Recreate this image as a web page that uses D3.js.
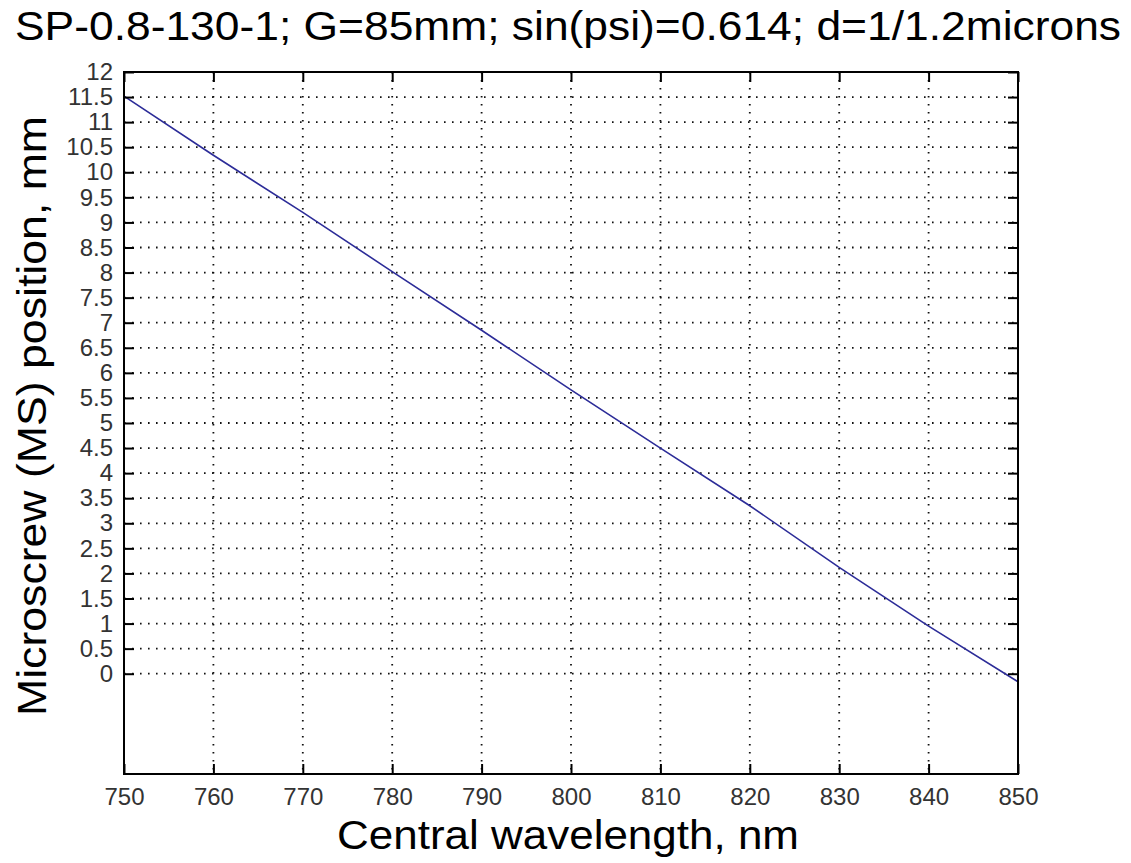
<!DOCTYPE html>
<html>
<head>
<meta charset="utf-8">
<script src="https://cdn.jsdelivr.net/npm/d3@7"></script>
<style>
  html, body { margin: 0; padding: 0; background: #fff; }
  svg { display: block; }
  text { font-family: "Liberation Sans", Arial, sans-serif; }
</style>
</head>
<body>
<svg id="chart" width="1131" height="863"></svg>
<script>
// ---- data ----
const wavelengths = [750, 760, 770, 780, 790, 800, 810, 820, 830, 840, 850];
const positions   = [11.52, 10.34, 9.20, 8.02, 6.85, 5.66, 4.50, 3.35, 2.12, 0.95, -0.16];
const xTicks = [750, 760, 770, 780, 790, 800, 810, 820, 830, 840, 850];
const yTicks = [0, 0.5, 1, 1.5, 2, 2.5, 3, 3.5, 4, 4.5, 5, 5.5, 6, 6.5, 7, 7.5, 8, 8.5, 9, 9.5, 10, 10.5, 11, 11.5, 12];
const titleText = "SP-0.8-130-1; G=85mm; sin(psi)=0.614; d=1/1.2microns";
const xLabelText = "Central wavelength, nm";
const yLabelText = "Microscrew (MS) position, mm";

// ---- layout ----
const L = 124, R = 1018, T = 72, B = 774;
const svg = d3.select("#chart");
svg.append("rect").attr("width", 1131).attr("height", 863).attr("fill", "#fff");

const x = d3.scaleLinear().domain([750, 850]).range([L, R]);
const y = d3.scaleLinear().domain([-2, 12]).range([B, T]);

// grid
const grid = svg.append("g").attr("stroke", "#111").attr("stroke-width", 1.8)
  .attr("stroke-dasharray", "1.6,6.4").attr("fill", "none");
grid.selectAll("line.gx").data(xTicks.slice(1, -1)).join("line")
  .attr("x1", d => x(d)).attr("x2", d => x(d)).attr("y1", T).attr("y2", B);
grid.selectAll("line.gy").data(yTicks.slice(0, -1)).join("line")
  .attr("y1", d => y(d)).attr("y2", d => y(d)).attr("x1", L).attr("x2", R);

// data line
const line = d3.line().x((d, i) => x(wavelengths[i])).y(d => y(d));
svg.append("path").datum(positions).attr("d", line)
  .attr("fill", "none").attr("stroke", "#2c2c98").attr("stroke-width", 1.6);

// axes (inside ticks on all sides)
const tickLen = 10;
const xb = svg.append("g").attr("transform", `translate(0,${B})`)
  .call(d3.axisBottom(x).tickValues(xTicks).tickSizeInner(-tickLen).tickSizeOuter(0).tickPadding(14).tickFormat(d3.format("d")));
const xt = svg.append("g").attr("transform", `translate(0,${T})`)
  .call(d3.axisTop(x).tickValues(xTicks).tickSizeInner(-tickLen).tickSizeOuter(0).tickFormat(""));
const yl = svg.append("g").attr("transform", `translate(${L},0)`)
  .call(d3.axisLeft(y).tickValues(yTicks).tickSizeInner(-tickLen).tickSizeOuter(0).tickPadding(11).tickFormat(d => String(d)));
const yr = svg.append("g").attr("transform", `translate(${R},0)`)
  .call(d3.axisRight(y).tickValues(yTicks).tickSizeInner(-tickLen).tickSizeOuter(0).tickFormat(""));

[xb, xt, yl, yr].forEach(g => {
  g.select(".domain").remove();
  g.selectAll(".tick line").attr("stroke", "#000").attr("stroke-width", 2);
  g.selectAll(".tick text").attr("fill", "#333").style("font-size", "24px")
    .style("font-family", "'Liberation Sans', Arial, sans-serif");
});
xb.selectAll(".tick text").attr("dy", "0.71em");

// box
svg.append("rect").attr("x", L).attr("y", T).attr("width", R - L).attr("height", B - T)
  .attr("fill", "none").attr("stroke", "#000").attr("stroke-width", 2);

// title
svg.append("text").attr("x", 15).attr("y", 40).attr("text-anchor", "start")
  .attr("textLength", 1106).attr("lengthAdjust", "spacingAndGlyphs")
  .style("font-size", "41px").attr("fill", "#000").text(titleText);

// x label
svg.append("text").attr("x", 568).attr("y", 849).attr("text-anchor", "middle")
  .attr("textLength", 462).attr("lengthAdjust", "spacingAndGlyphs")
  .style("font-size", "41px").attr("fill", "#000").text(xLabelText);

// y label
svg.append("text").attr("transform", `translate(46,${416}) rotate(-90)`).attr("text-anchor", "middle")
  .attr("textLength", 600).attr("lengthAdjust", "spacingAndGlyphs")
  .style("font-size", "41px").attr("fill", "#000").text(yLabelText);
</script>
</body>
</html>
